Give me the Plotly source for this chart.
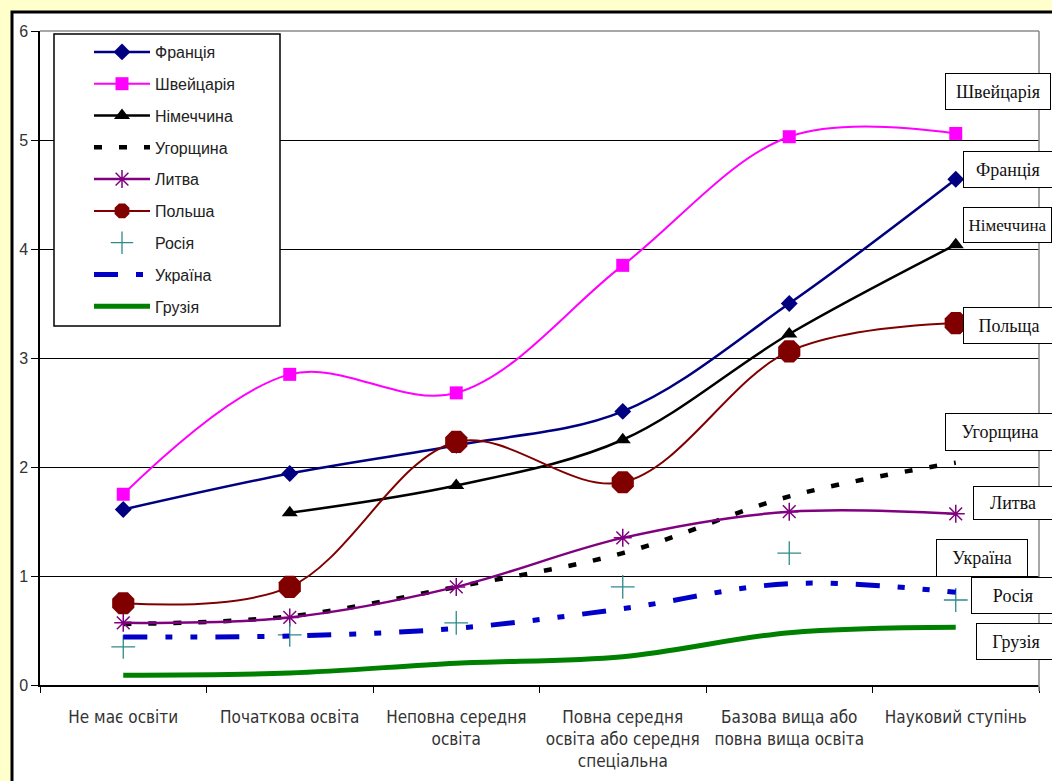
import plotly.graph_objects as go

# ---- data -------------------------------------------------------------
categories = [
    "Не має освіти",
    "Початкова освіта",
    "Неповна середня<br>освіта",
    "Повна середня<br>освіта або середня<br>спеціальна",
    "Базова вища або<br>повна вища освіта",
    "Науковий ступінь",
]

france = [1.61, 1.94, 2.20, 2.51, 3.50, 4.64]
switzerland = [1.75, 2.85, 2.68, 3.85, 5.03, 5.06]
germany = [None, 1.58, 1.83, 2.25, 3.22, 4.04]
hungary = [0.56, 0.63, 0.90, 1.21, 1.73, 2.04]
lithuania = [0.57, 0.62, 0.90, 1.35, 1.59, 1.57]
poland = [0.75, 0.90, 2.23, 1.86, 3.06, 3.32]
russia = [0.35, 0.46, 0.57, 0.90, 1.21, 0.78]
ukraine = [0.44, 0.45, 0.52, 0.70, 0.93, 0.85]
georgia = [0.09, 0.11, 0.20, 0.26, 0.48, 0.53]

names = ["Франція", "Швейцарія", "Німеччина", "Угорщина", "Литва",
         "Польша", "Росія", "Україна", "Грузія"]
values = [france, switzerland, germany, hungary, lithuania,
          poland, russia, ukraine, georgia]

end_labels = ["Швейцарія", "Франція", "Німеччина", "Польща", "Угорщина",
              "Литва", "Україна", "Росія", "Грузія"]

# ---- geometry helpers (pixel -> paper) --------------------------------
W, H = 1052, 781
L, R, T, B = 40, 13, 31, 96
PW, PH = W - L - R, H - T - B


def px(x):
    return (x - L) / PW


def py(y):
    return (T + PH - y) / PH


# ---- series styles ----------------------------------------------------
styles = [
    dict(mode="lines+markers", line=dict(color="#000080", width=2.5),
         marker=dict(symbol="diamond", size=13, color="#000080")),
    dict(mode="lines+markers", line=dict(color="#FF00FF", width=2),
         marker=dict(symbol="square", size=13, color="#FF00FF")),
    dict(mode="lines+markers", line=dict(color="#000000", width=2.5),
         marker=dict(symbol="triangle-up", size=14, color="#000000")),
    dict(mode="lines", line=dict(color="#000000", width=4.5, dash="8px,17px")),
    dict(mode="lines+markers", line=dict(color="#800080", width=2.5),
         marker=dict(symbol="asterisk-open", size=15, color="#800080",
                     line=dict(color="#800080", width=1.5))),
    dict(mode="lines+markers", line=dict(color="#800000", width=2),
         marker=dict(symbol="octagon", size=24, color="#800000")),
    dict(mode="markers",
         marker=dict(symbol="cross-thin-open", size=17, color="#2E8B8B",
                     line=dict(color="#2E8B8B", width=1.3))),
    dict(mode="lines", line=dict(color="#0000C8", width=5,
                                 dash="24px,18px,7px,18px,7px,18px")),
    dict(mode="lines", line=dict(color="#008000", width=5)),
]

fig = go.Figure()
for name, vals, st in zip(names, values, styles):
    line = dict(st.get("line", {}))
    line.update(shape="spline", smoothing=1)
    fig.add_trace(go.Scatter(
        x=categories, y=vals, name=name, legendgroup=name,
        mode=st["mode"], line=line, marker=st.get("marker"),
        connectgaps=False, cliponaxis=False,
    ))

# ---- end-of-line label boxes (left, top, bottom, width, font size) ----
label_boxes = [
    (945, 73, 110, 106, 18),
    (963, 151, 188, 90, 18),
    (963, 207, 243, 89, 17),
    (963, 307, 344, 92, 18),
    (945, 413, 451, 110, 18),
    (973, 486, 520, 80, 18),
    (936, 539, 577, 92, 18),
    (971, 577, 614, 84, 18),
    (976, 623, 660, 80, 18),
]
annotations = []
for text, (left, top, bottom, bw, fs) in zip(end_labels, label_boxes):
    annotations.append(dict(
        text=text, xref="paper", yref="paper",
        x=px(left), y=py(top), xanchor="left", yanchor="top",
        width=bw - 2, height=bottom - top - 2, align="center",
        showarrow=False, bgcolor="white", bordercolor="#000000",
        borderwidth=1, borderpad=0,
        font=dict(family="Liberation Serif, Times New Roman, serif",
                  size=fs, color="#111111"),
    ))

shapes = [
    # white chart panel with heavy black frame
    dict(type="rect", xref="paper", yref="paper",
         x0=px(12), y0=py(12), x1=px(1300), y1=py(1000),
         line=dict(color="#000000", width=3), fillcolor="white",
         layer="below"),
    # grey top and right edges of plot area
    dict(type="line", xref="paper", yref="paper", x0=0, x1=1, y0=1, y1=1,
         line=dict(color="#8a8a8a", width=1.5), layer="above"),
    dict(type="line", xref="paper", yref="paper", x0=1, x1=1,
         y0=py(691), y1=1,
         line=dict(color="#8a8a8a", width=1.5), layer="above"),
    # legend frame
    dict(type="rect", xref="paper", yref="paper",
         x0=px(54), y0=py(326), x1=px(280), y1=py(34),
         line=dict(color="#000000", width=1.5), fillcolor="white",
         layer="above"),
]

fig.update_layout(
    width=W, height=H,
    margin=dict(l=L, r=R, t=T, b=B, pad=0, autoexpand=False),
    paper_bgcolor="#FFFFCC",
    plot_bgcolor="white",
    showlegend=True,
    legend=dict(
        x=px(89), y=py(35), xanchor="left", yanchor="top",
        bgcolor="rgba(0,0,0,0)", borderwidth=0,
        itemwidth=56, tracegroupgap=8, traceorder="grouped",
        font=dict(family="Liberation Sans, Arial, sans-serif", size=16,
                  color="#222222"),
    ),
    xaxis=dict(
        type="category", range=[-0.5, 5.5], automargin=False,
        showline=True, linecolor="#000000", linewidth=1.5,
        ticks="outside", tickson="boundaries", ticklen=6,
        tickcolor="#000000", tickwidth=1, tickangle=0,
        showgrid=False, zeroline=False,
        ticklabelstandoff=16,
        tickfont=dict(family="Liberation Sans Narrow, DejaVu Sans Condensed, Arial",
                      size=17, color="#333333"),
    ),
    yaxis=dict(
        range=[0, 6], dtick=1, tick0=0, automargin=False,
        showline=True, linecolor="#000000", linewidth=1.5,
        ticks="outside", ticklen=7, tickcolor="#000000",
        showgrid=True, gridcolor="#000000", gridwidth=1,
        zeroline=False,
        tickfont=dict(family="Liberation Sans, Arial, sans-serif",
                      size=16, color="#333333"),
    ),
    shapes=shapes,
    annotations=annotations,
)

fig.write_html("out.html")
